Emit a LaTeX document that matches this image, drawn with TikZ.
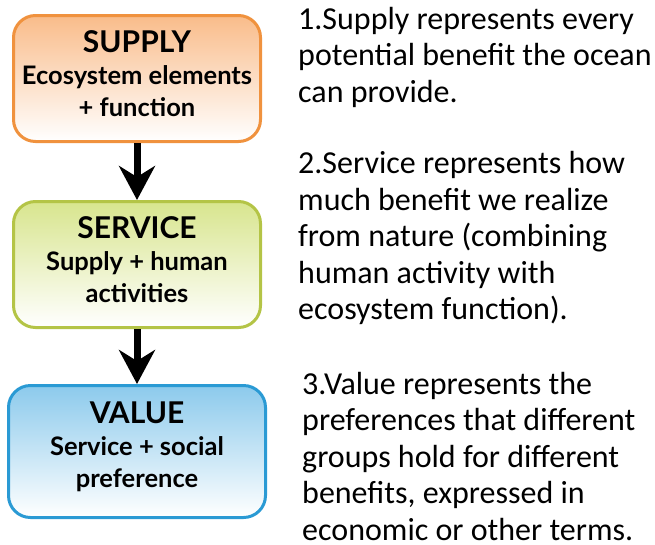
\documentclass[tikz,border=0pt]{standalone}
\usepackage{fontspec}
\usepackage{tikz}
\usetikzlibrary{arrows.meta, positioning}
\setmainfont{Carlito}
\newfontfamily\boxfont{Lato}

\definecolor{supplyline}{RGB}{240,146,62}
\definecolor{supplytop}{RGB}{249,188,138}
\definecolor{serviceline}{RGB}{180,196,70}
\definecolor{servicetop}{RGB}{216,229,142}
\definecolor{valueline}{RGB}{42,154,212}
\definecolor{valuetop}{RGB}{140,202,236}

\tikzset{
  stagebox/.style={draw, line width=3pt, rounded corners=22pt, align=center,
    font=\boxfont\bfseries\fontsize{25.5}{32}\selectfont, inner sep=0pt},
  flowarrow/.style={line width=7pt, -{Stealth[length=34pt, width=36pt, inset=11pt]}},
  desc/.style={anchor=base west, align=left, inner sep=0pt,
    font=\fontsize{32}{36.5}\selectfont}
}

\begin{document}
\begin{tikzpicture}[x=1pt, y=-1pt]
\useasboundingbox (0,0) rectangle (655,544);
% 三个方框
\node[stagebox, draw=supplyline, top color=supplytop, middle color=supplytop!45, bottom color=white,
  minimum width=247pt, minimum height=126pt] (supply) at (137,78.5)
  {{\fontsize{30}{32}\selectfont SUPPLY}\\Ecosystem elements\\+ function\rule[-10pt]{0pt}{10pt}};
\node[stagebox, draw=serviceline, top color=servicetop, middle color=servicetop!45, bottom color=white,
  minimum width=247pt, minimum height=126pt] (service) at (137,264.5)
  {{\fontsize{30}{32}\selectfont SERVICE}\\Supply + human\\activities\rule[-10pt]{0pt}{10pt}};
\node[stagebox, draw=valueline, top color=valuetop, middle color=valuetop!45, bottom color=white,
  minimum width=257pt, minimum height=132pt] (value) at (137,451.5)
  {{\fontsize{30}{32}\selectfont VALUE}\\Service + social\\preference\rule[-14pt]{0pt}{14pt}};
% 箭头
\draw[flowarrow] (supply.south) -- (service.north);
\draw[flowarrow] (service.south) -- (value.north);
% 说明文字（锚点在最后一行基线）
\node[desc] (desc1) at (298,102) {1.Supply represents every\\potential benefit the ocean\\can provide.};
\node[desc] (desc2) at (298,319.5) {2.Service represents how\\much benefit we realize\\from nature (combining\\human activity with\\ecosystem function).};
\node[desc] (desc3) at (302,540) {3.Value represents the\\preferences that different\\groups hold for different\\benefits, expressed in\\economic or other terms.};
\end{tikzpicture}
\end{document}
